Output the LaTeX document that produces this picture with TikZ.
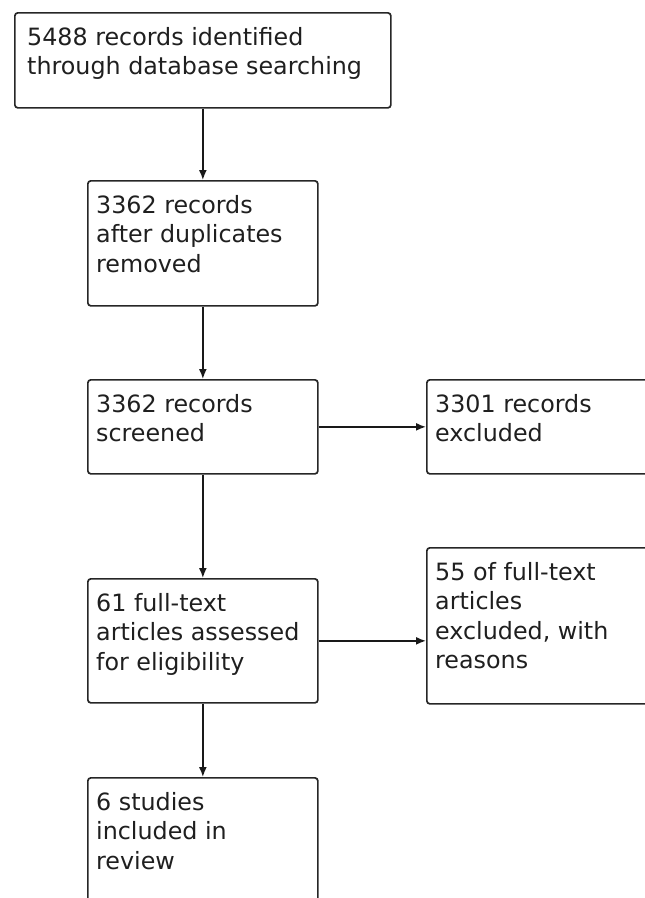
\documentclass[tikz,border=0pt]{standalone}
\usepackage{fontspec}
\setmainfont{DejaVu Sans}
\usetikzlibrary{arrows.meta}
\begin{document}
\begin{tikzpicture}[
   x=1pt, y=-1pt,
   box/.style={draw=black!85, line width=1.7pt, rounded corners=3pt, anchor=north west, inner sep=0pt},
   txt/.style={anchor=north west, align=left, inner sep=0pt, font=\fontsize{23.8}{29.5}\selectfont, text=black!88},
   arrow/.style={-{Latex[length=10pt,width=8pt]}, line width=1.6pt, draw=black!90}
]
\useasboundingbox (0,0) rectangle (645,898);
\clip (0,0) rectangle (645,898);

% Main column
\node[box, minimum width=376pt, minimum height=95pt] (search) at (14,12) {};
\node[box, minimum width=230pt, minimum height=125pt] (dedup) at (87,180) {};
\node[box, minimum width=230pt, minimum height=94pt] (screen) at (87,379) {};
\node[box, minimum width=230pt, minimum height=124pt] (full) at (87,578) {};
\node[box, minimum width=230pt, minimum height=150pt] (incl) at (87,777) {};

% Side column
\node[box, minimum width=240pt, minimum height=94pt] (excl) at (426,379) {};
\node[box, minimum width=240pt, minimum height=156pt] (fullex) at (426,547) {};

% Texts
\node[txt] (searchtxt) at ([shift={(13,15)}]search.north west) {5488 records identified\\through database searching};
\node[txt] (deduptxt) at ([shift={(9,15)}]dedup.north west) {3362 records\\after duplicates\\removed};
\node[txt] (screentxt) at ([shift={(9,15)}]screen.north west) {3362 records\\screened};
\node[txt] (fulltxt) at ([shift={(9,15)}]full.north west) {61 full-text\\articles assessed\\for eligibility};
\node[txt] (incltxt) at ([shift={(9,15)}]incl.north west) {6 studies\\included in\\review};
\node[txt] (excltxt) at ([shift={(9,15)}]excl.north west) {3301 records\\excluded};
\node[txt] (fullextxt) at ([shift={(9,15)}]fullex.north west) {55 of full-text\\articles\\excluded, with\\reasons};

% Arrows
\draw[arrow] (search.south) -- (dedup.north);
\draw[arrow] (dedup.south) -- (screen.north);
\draw[arrow] (screen.south) -- (full.north);
\draw[arrow] (full.south) -- (incl.north);
\draw[arrow] (screen.east) -- (excl.west);
\draw[arrow] (full.east) -- (full.east -| fullex.west);

\end{tikzpicture}
\end{document}
